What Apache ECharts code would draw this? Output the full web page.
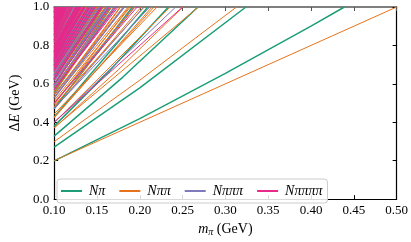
<!DOCTYPE html>
<html><head><meta charset="utf-8">
<script src="https://cdn.jsdelivr.net/npm/echarts@6/dist/echarts.min.js"></script>
<style>html,body{margin:0;padding:0;background:#fff}#c{width:411px;height:242px}</style>
</head><body><div id="c"></div>
<script>
// Each level: [dE at m_pi=0.10, m_pi where dE reaches 1.0, optional extra [m_pi, dE] samples]
const nPiLevels = [
  [0.199, 0.439, [[0.2, 0.419], [0.3, 0.6545], [0.4, 0.9005]]],
  [0.270, 0.324, [[0.2, 0.579]]],
  [0.328, 0.268, [[0.18, 0.634]]],
  [0.380, 0.2335, [[0.165, 0.670]]],
  [0.428, 0.2095], [0.472, 0.1915], [0.554, 0.1665], [0.592, 0.157],
  [0.629, 0.149], [0.664, 0.142], [0.698, 0.136], [0.731, 0.1305],
  [0.763, 0.1258], [0.825, 0.1178], [0.855, 0.1141], [0.884, 0.1105],
  [0.913, 0.107], [0.941, 0.104], [0.969, 0.101]
];
const nPiPiLevels = [
  [0.200, 0.500],
  [0.299, 0.313, [[0.2, 0.619]]],
  [0.372, 0.2685], [0.398, 0.2355], [0.423, 0.2143],
  [0.370, 0.2505, [[0.175, 0.6735]]],
  [0.428, 0.2168], [0.443, 0.2202], [0.468, 0.2016], [0.493, 0.1875],
  [0.480, 0.1945], [0.487, 0.2053], [0.513, 0.189], [0.538, 0.177],
  [0.562, 0.1673], [0.586, 0.1597], [0.502, 0.1928], [0.551, 0.170],
  [0.528, 0.1777], [0.529, 0.1864], [0.579, 0.165], [0.626, 0.1503],
  [0.546, 0.1807], [0.596, 0.1607], [0.643, 0.1472], [0.572, 0.1650],
  [0.599, 0.1642], [0.648, 0.149], [0.695, 0.138], [0.578, 0.1699],
  [0.602, 0.1607], [0.626, 0.1533], [0.650, 0.147], [0.673, 0.1417],
  [0.580, 0.1725], [0.630, 0.1545], [0.679, 0.142], [0.724, 0.1325],
  [0.654, 0.1462], [0.622, 0.1573], [0.647, 0.150], [0.694, 0.1387],
  [0.717, 0.1341], [0.692, 0.139], [0.622, 0.1597], [0.647, 0.1518],
  [0.672, 0.1453], [0.722, 0.1347], [0.770, 0.1268], [0.633, 0.1575],
  [0.683, 0.1432], [0.733, 0.133], [0.728, 0.133], [0.659, 0.1517],
  [0.759, 0.1295],
  [0.705, 0.1368], [0.716, 0.1349], [0.730, 0.1325], [0.745, 0.1301],
  [0.755, 0.1286], [0.765, 0.1270], [0.780, 0.1248], [0.790, 0.1234],
  [0.800, 0.1220], [0.815, 0.1200], [0.825, 0.1187], [0.835, 0.1174],
  [0.850, 0.1155], [0.860, 0.1143], [0.875, 0.1126], [0.890, 0.1109],
  [0.900, 0.1098], [0.915, 0.1082], [0.930, 0.1066], [0.945, 0.1051],
  [0.960, 0.1037], [0.975, 0.1023], [0.990, 0.1009]
];
const nPiPiPiLevels = [
  [0.399, 0.242], [0.472, 0.2117], [0.498, 0.194], [0.523, 0.181],
  [0.469, 0.2045], [0.528, 0.182], [0.572, 0.173], [0.597, 0.1635],
  [0.622, 0.155], [0.671, 0.143], [0.543, 0.1825], [0.568, 0.1705],
  [0.593, 0.1618], [0.580, 0.166], [0.587, 0.1703], [0.612, 0.1607],
  [0.637, 0.1529], [0.662, 0.1462], [0.686, 0.1408], [0.601, 0.1635],
  [0.651, 0.1485], [0.616, 0.1623], [0.641, 0.1545], [0.666, 0.148],
  [0.690, 0.142], [0.715, 0.137], [0.628, 0.1545], [0.629, 0.1565],
  [0.679, 0.144], [0.728, 0.1345], [0.675, 0.146], [0.700, 0.140],
  [0.725, 0.135], [0.775, 0.127], [0.646, 0.151], [0.696, 0.140],
  [0.746, 0.131], [0.672, 0.144],
  [0.705, 0.1368], [0.710, 0.1359], [0.720, 0.1342], [0.735, 0.1317],
  [0.740, 0.1309], [0.750, 0.1293], [0.760, 0.1278], [0.770, 0.1263],
  [0.785, 0.1241], [0.795, 0.1227], [0.810, 0.1206], [0.820, 0.1193],
  [0.830, 0.1180], [0.845, 0.1161], [0.860, 0.1143], [0.870, 0.1131],
  [0.885, 0.1114], [0.900, 0.1098], [0.910, 0.1087], [0.925, 0.1071],
  [0.935, 0.1061], [0.950, 0.1046], [0.960, 0.1037], [0.970, 0.1027],
  [0.985, 0.1013], [0.995, 0.1004]
];
const nPiPiPiPiLevels = [
  [0.400, 0.250], [0.499, 0.197], [0.572, 0.1747], [0.598, 0.1643],
  [0.622, 0.156], [0.569, 0.172], [0.628, 0.156], [0.671, 0.148],
  [0.696, 0.142], [0.721, 0.1362], [0.771, 0.1273], [0.642, 0.1547],
  [0.667, 0.1475], [0.692, 0.1415], [0.680, 0.1445], [0.745, 0.1343],
  [0.770, 0.1297], [0.795, 0.125], [0.820, 0.1213], [0.701, 0.1415],
  [0.751, 0.131], [0.687, 0.1455], [0.712, 0.1393], [0.737, 0.134],
  [0.762, 0.1295], [0.786, 0.1253], [0.716, 0.1397], [0.741, 0.1345],
  [0.766, 0.1300], [0.790, 0.1258], [0.728, 0.1352], [0.729, 0.136],
  [0.779, 0.127], [0.828, 0.1195], [0.772, 0.1285],
  [0.735, 0.1317], [0.755, 0.1286], [0.775, 0.1255], [0.800, 0.1220],
  [0.810, 0.1206], [0.830, 0.1180], [0.840, 0.1168], [0.850, 0.1155],
  [0.855, 0.1149], [0.860, 0.1143], [0.865, 0.1137], [0.870, 0.1131],
  [0.875, 0.1126], [0.880, 0.1120], [0.885, 0.1114], [0.890, 0.1109],
  [0.895, 0.1103], [0.900, 0.1098], [0.905, 0.1092], [0.910, 0.1087],
  [0.915, 0.1082], [0.920, 0.1077], [0.925, 0.1071], [0.930, 0.1066],
  [0.935, 0.1061], [0.940, 0.1056], [0.945, 0.1051], [0.950, 0.1046],
  [0.955, 0.1041], [0.960, 0.1037], [0.965, 0.1032], [0.970, 0.1027],
  [0.975, 0.1023], [0.980, 0.1018], [0.985, 0.1013], [0.990, 0.1009],
  [0.995, 0.1004]
];
const channelNames = ['Nπ', 'Nππ', 'Nπππ', 'Nππππ'];
const xRange = [0.10, 0.50];
const yRange = [0.0, 1.0];

const channels = [
  {name: channelNames[0], levels: nPiLevels, color: '#1b9e77', width: 1.5},
  {name: channelNames[1], levels: nPiPiLevels, color: '#e6731c', width: 1.0},
  {name: channelNames[2], levels: nPiPiPiLevels, color: '#7f7abb', width: 1.0},
  {name: channelNames[3], levels: nPiPiPiPiLevels, color: '#e7298a', width: 1.0}
];

const series = [];
channels.forEach(ch => {
  ch.levels.forEach(lv => {
    const pts = [[xRange[0], lv[0]]];
    if (lv[2]) lv[2].forEach(p => pts.push(p));
    pts.push([lv[1], yRange[1]]);
    series.push({
      type: 'line', name: ch.name, data: pts, showSymbol: false, symbol: 'none',
      silent: true, clip: true, animation: false,
      lineStyle: {color: ch.color, width: ch.width},
      itemStyle: {color: ch.color},
      emphasis: {disabled: true}
    });
  });
});

const serif = 'Liberation Serif, Times New Roman, serif';
const chart = echarts.init(document.getElementById('c'), null, {renderer: 'canvas'});
chart.setOption({
  animation: false,
  backgroundColor: '#fff',
  grid: {left: 49, right: 13, top: 7, bottom: 33, containLabel: false},
  legend: {
    data: channelNames,
    left: 57, top: 179,
    icon: 'rect', itemWidth: 21, itemHeight: 2, itemGap: 14,
    padding: [4, 5, 4, 4],
    backgroundColor: 'rgba(255,255,255,0.85)',
    borderColor: '#cccccc', borderWidth: 1, borderRadius: 3,
    selectedMode: false,
    textStyle: {fontFamily: serif, fontStyle: 'italic', fontSize: 14, color: '#000', lineHeight: 16, padding: [0, 0, 0, 2]}
  },
  xAxis: [{
    type: 'value', min: xRange[0], max: xRange[1], interval: 0.05, position: 'bottom',
    axisLine: {show: true, onZero: false, lineStyle: {color: '#000', width: 1.2}},
    axisTick: {show: true, inside: true, length: 4, lineStyle: {color: '#000'}},
    axisLabel: {formatter: v => v.toFixed(2), fontFamily: serif, fontSize: 13, color: '#000', margin: 5, showMinLabel: true, showMaxLabel: true},
    splitLine: {show: false},
    name: '{e|m}{s|π}{d| (GeV)}', nameLocation: 'middle', nameGap: 14,
    nameTextStyle: {fontFamily: serif, fontSize: 14, color: '#000',
      rich: {e: {fontStyle: 'italic', fontFamily: serif, fontSize: 14, lineHeight: 16, verticalAlign: 'middle'},
             s: {fontStyle: 'italic', fontFamily: serif, fontSize: 10, lineHeight: 10, verticalAlign: 'bottom'},
             d: {fontFamily: serif, fontSize: 14, lineHeight: 16, verticalAlign: 'middle'}}}
  }, {
    type: 'value', min: xRange[0], max: xRange[1], interval: 0.05, position: 'top',
    axisLine: {show: true, onZero: false, lineStyle: {color: '#555', width: 1.5}},
    axisTick: {show: true, inside: true, length: 4, lineStyle: {color: '#555'}},
    axisLabel: {show: false}, splitLine: {show: false}
  }],
  yAxis: [{
    type: 'value', min: yRange[0], max: yRange[1], interval: 0.2, position: 'left',
    axisLine: {show: true, onZero: false, lineStyle: {color: '#000', width: 1.2}},
    axisTick: {show: true, inside: true, length: 4, lineStyle: {color: '#000'}},
    axisLabel: {formatter: v => v.toFixed(1), fontFamily: serif, fontSize: 13, color: '#000', margin: 5, showMinLabel: true, showMaxLabel: true},
    splitLine: {show: false},
    name: '{d|Δ}{e|E}{d| (GeV)}', nameLocation: 'middle', nameGap: 28, nameRotate: 90,
    nameTextStyle: {fontFamily: serif, fontSize: 14, color: '#000',
      rich: {e: {fontStyle: 'italic', fontFamily: serif, fontSize: 14}, d: {fontFamily: serif, fontSize: 14}}}
  }, {
    type: 'value', min: yRange[0], max: yRange[1], interval: 0.2, position: 'right',
    axisLine: {show: true, onZero: false, lineStyle: {color: '#000', width: 1.2}},
    axisTick: {show: true, inside: true, length: 4, lineStyle: {color: '#000'}},
    axisLabel: {show: false}, splitLine: {show: false}
  }],
  series: series
});
</script>
</body></html>
